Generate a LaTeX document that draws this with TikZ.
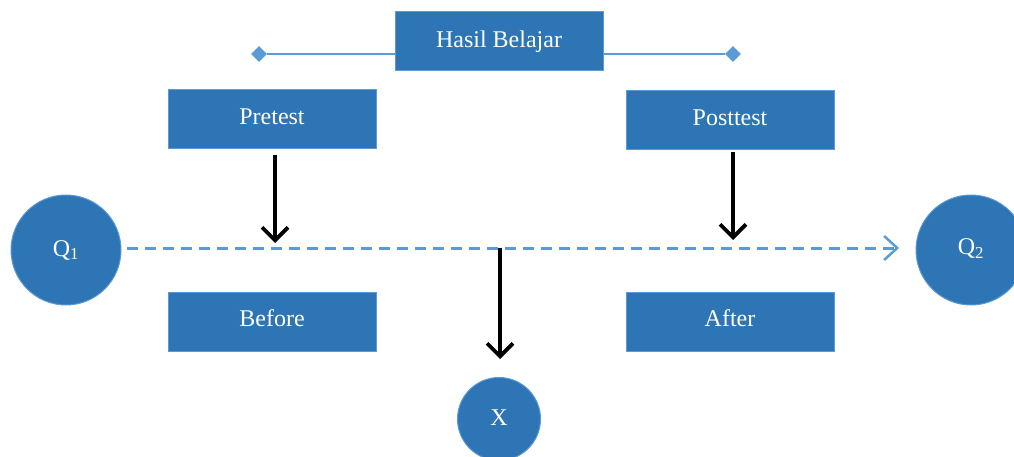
\documentclass[tikz,border=0pt]{standalone}
\usepackage{fontspec}
\setmainfont{Liberation Serif}
\usetikzlibrary{arrows.meta,shapes.geometric}
\definecolor{boxfill}{HTML}{2E75B6}
\definecolor{boxline}{HTML}{5B9BD5}
\tikzset{
  box/.style={draw=boxline, line width=1pt, fill=boxfill, minimum width=208pt, minimum height=59pt, inner sep=0pt, text=white, font=\fontsize{24}{27}\selectfont},
  circ/.style={circle, draw=boxline, line width=1pt, fill=boxfill, inner sep=0pt, text=white, font=\fontsize{24}{27}\selectfont},
  dia/.style={diamond, fill=boxline, draw=none, minimum width=16pt, minimum height=16pt, inner sep=0pt},
  thin/.style={draw=boxline, line width=1.5pt},
  dashline/.style={draw=boxline, line width=3pt, dash pattern=on 11pt off 7pt, -{Straight Barb[length=13pt,width=24pt,line width=2.5pt]}},
  blackarrow/.style={draw=black, line width=3.8pt, -{Straight Barb[length=13pt,width=26pt]}}
}
\begin{document}
\begin{tikzpicture}[x=1pt,y=-1pt]
\useasboundingbox (0,0) rectangle (1014,457);
\clip (0,0) rectangle (1014,457);
% top line with diamonds
\node[dia] (dl) at (259,54) {};
\node[dia] (dr) at (733,54) {};
\node[box] (hb) at (499,41.5) {\raisebox{4pt}{Hasil Belajar}};
\draw[thin] (dl) -- (dl -| hb.west);
\draw[thin] (hb.east |- dr) -- (dr);
% boxes
\node[box] (pre) at (272,119.5) {\raisebox{6pt}{Pretest}};
\node[box] (post) at (730,120.5) {\raisebox{6pt}{Posttest}};
\node[box] (bef) at (272,321.5) {\raisebox{6pt}{Before}};
\node[box] (aft) at (730,321.5) {\raisebox{6pt}{After}};
% circles
\node[circ, minimum size=110pt] (q1) at (66,250) {Q\textsubscript{1}};
\node[circ, minimum size=110pt] (q2) at (971,250) {\raisebox{7pt}{Q\textsubscript{2}}};
\node[circ, minimum size=83pt] (x) at (499,419) {\raisebox{2pt}{X}};
% dashed line
\coordinate (dend) at (899,248);
\draw[dashline] (q1.east |- 0,248) ++(5,0) coordinate (dstart) -- (dend);
% black arrows
\coordinate (a1) at (275,243);
\coordinate (a2) at (733,240);
\coordinate (mtop) at (500,248);
\coordinate (mbot) at (500,359);
\draw[blackarrow] (pre.south -| a1) ++(0,6) -- (a1);
\draw[blackarrow] (post.south -| a2) ++(0,2) -- (a2);
\draw[blackarrow] (mtop) -- (mbot);
\end{tikzpicture}
\end{document}
